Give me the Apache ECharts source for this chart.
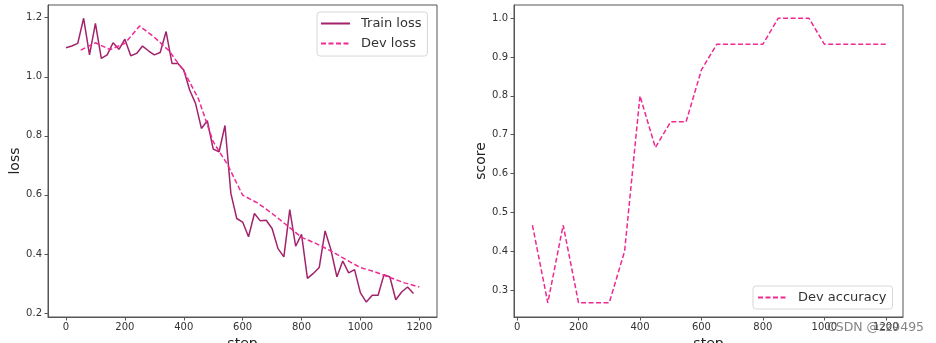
<!DOCTYPE html>
<html>
<head>
<meta charset="utf-8">
<script src="https://cdn.jsdelivr.net/npm/echarts@6/dist/echarts.min.js"></script>
<style>
html,body{margin:0;padding:0;background:#fff;}
#chart{width:936px;height:343px;}
</style>
</head>
<body>
<div id="chart"></div>
<script>
// ---- data ----
const trainSteps = [0,20,40,60,80,100,120,140,160,180,200,220,240,260,280,300,320,340,360,380,400,420,440,460,480,500,520,540,560,580,600,620,640,660,680,700,720,740,760,780,800,820,840,860,880,900,920,940,960,980,1000,1020,1040,1060,1080,1100,1120,1140,1160,1180];
const trainLoss = [1.098,1.104,1.113,1.198,1.074,1.181,1.062,1.074,1.115,1.093,1.127,1.071,1.079,1.104,1.088,1.074,1.082,1.153,1.045,1.045,1.023,0.955,0.910,0.825,0.851,0.755,0.746,0.835,0.605,0.520,0.508,0.458,0.537,0.512,0.514,0.486,0.418,0.390,0.550,0.426,0.466,0.317,0.334,0.354,0.478,0.413,0.322,0.376,0.336,0.347,0.268,0.237,0.260,0.260,0.330,0.322,0.245,0.271,0.288,0.266];
const devSteps = [50,100,150,200,250,300,350,400,450,500,550,600,650,700,750,800,850,900,950,1000,1050,1100,1150,1200];
const devLoss = [1.090,1.115,1.092,1.113,1.172,1.134,1.088,1.020,0.925,0.780,0.700,0.599,0.573,0.537,0.497,0.456,0.435,0.410,0.381,0.354,0.339,0.320,0.302,0.288];
const devAcc = [0.467,0.267,0.467,0.267,0.267,0.267,0.400,0.800,0.667,0.733,0.733,0.867,0.933,0.933,0.933,0.933,1.000,1.000,1.000,0.933,0.933,0.933,0.933,0.933];
const stepTicks = [0,200,400,600,800,1000,1200];
const lossTicks = [0.2,0.4,0.6,0.8,1.0,1.2];
const scoreTicks = [0.3,0.4,0.5,0.6,0.7,0.8,0.9,1.0];

const pair = (xs, ys) => xs.map((x, i) => [x, ys[i]]);
const FONT = 'DejaVu Sans';
const spine = '#555';

function xAx(idx, min, max) {
  return {
    type: 'value', gridIndex: idx, min: min, max: max,
    name: 'step', nameLocation: 'middle', nameGap: 20,
    nameTextStyle: {fontFamily: FONT, fontSize: 14, color: '#222'},
    axisLine: {show: true, onZero: false, lineStyle: {color: spine, width: 1}},
    axisTick: {show: true, length: 3.5, lineStyle: {color: spine}, customValues: stepTicks},
    axisLabel: {fontFamily: FONT, fontSize: 10, color: '#333', margin: 5, customValues: stepTicks,
      formatter: v => String(v)},
    splitLine: {show: false}
  };
}
function yAx(idx, min, max, name, ticks, gap) {
  return {
    type: 'value', gridIndex: idx, min: min, max: max,
    name: name, nameLocation: 'middle', nameGap: gap,
    nameTextStyle: {fontFamily: FONT, fontSize: 14, color: '#222'},
    axisLine: {show: true, onZero: false, lineStyle: {color: spine, width: 1}},
    axisTick: {show: true, length: 3.5, lineStyle: {color: spine}, customValues: ticks},
    axisLabel: {fontFamily: FONT, fontSize: 10, color: '#333', margin: 6, customValues: ticks,
      formatter: v => v.toFixed(1)},
    splitLine: {show: false}
  };
}

const legendBase = {
  orient: 'vertical', itemWidth: 29, itemHeight: 12, itemGap: 7,
  borderColor: '#d8d8d8', borderWidth: 1, borderRadius: 3, backgroundColor: '#fff',
  itemStyle: {opacity: 0},
  textStyle: {fontFamily: FONT, fontSize: 13, color: '#333', padding: [0, 0, 0, 6]}
};

const chart = echarts.init(document.getElementById('chart'), null, {renderer: 'canvas'});
chart.setOption({
  backgroundColor: '#fff',
  animation: false,
  grid: [
    {left: 48, top: 5, width: 389, height: 312, show: true, borderColor: spine, borderWidth: 1,
     backgroundColor: 'transparent', containLabel: false, outerBoundsMode: 'none'},
    {left: 514, top: 5, width: 389, height: 312, show: true, borderColor: spine, borderWidth: 1,
     backgroundColor: 'transparent', containLabel: false, outerBoundsMode: 'none'}
  ],
  xAxis: [xAx(0, -61, 1260), xAx(1, -10, 1256)],
  yAxis: [yAx(0, 0.1864, 1.243, 'loss', lossTicks, 26), yAx(1, 0.2304, 1.034, 'score', scoreTicks, 26)],
  legend: [
    Object.assign({}, legendBase, {data: ['Train loss', 'Dev loss'], left: 317, top: 12, padding: [5, 6, 6, 3]}),
    Object.assign({}, legendBase, {data: ['Dev accuracy'], left: 753, top: 286, padding: [5, 6, 5, 4]})
  ],
  series: [
    {
      name: 'Train loss', type: 'line', xAxisIndex: 0, yAxisIndex: 0,
      data: pair(trainSteps, trainLoss), showSymbol: false, symbol: 'none',
      color: '#a2226c', lineStyle: {color: '#a2226c', width: 1.5}
    },
    {
      name: 'Dev loss', type: 'line', xAxisIndex: 0, yAxisIndex: 0,
      data: pair(devSteps, devLoss), showSymbol: false, symbol: 'none',
      color: '#ee2a92', lineStyle: {color: '#ee2a92', width: 1.5, type: [5, 2.5]}
    },
    {
      name: 'Dev accuracy', type: 'line', xAxisIndex: 1, yAxisIndex: 1,
      data: pair(devSteps, devAcc), showSymbol: false, symbol: 'none',
      color: '#ee2a92', lineStyle: {color: '#ee2a92', width: 1.5, type: [5, 2.5]}
    }
  ],
  graphic: [
    {type: 'text', left: 827, top: 321, z: 100, silent: true,
     style: {text: 'CSDN @zz9495', fontFamily: FONT, fontSize: 12.5, fill: 'rgba(110,110,110,0.85)'}}
  ]
});
</script>
</body>
</html>
